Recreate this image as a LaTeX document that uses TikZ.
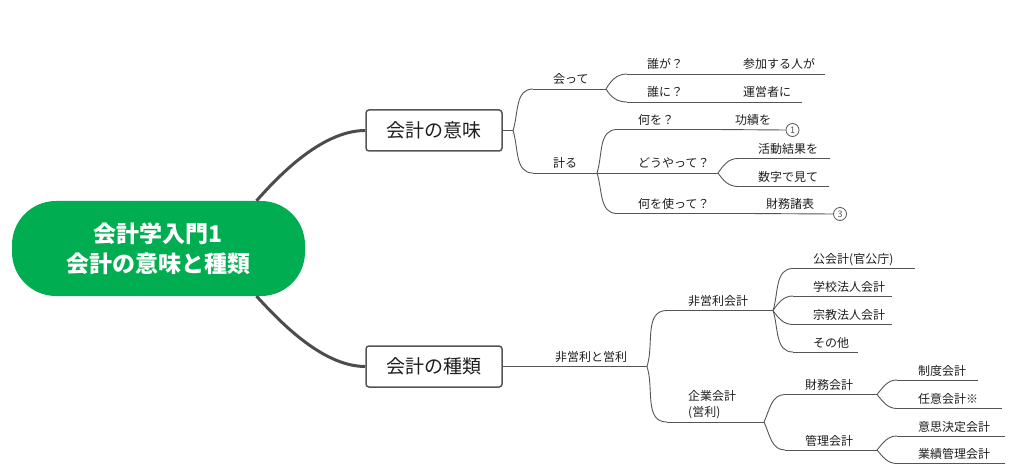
\documentclass[tikz,border=0pt]{standalone}
\usepackage{fontspec}
\setmainfont{Noto Sans CJK JP}
\definecolor{rootgreen}{RGB}{0,173,80}
\definecolor{lncol}{RGB}{85,85,85}
\definecolor{txtcol}{RGB}{30,30,30}
\begin{document}
\begin{tikzpicture}[x=1pt,y=-1pt,
  rootbox/.style={fill=rootgreen, rounded corners=44, minimum width=293, minimum height=95,
    text=white, align=center, font=\fontsize{23}{30}\selectfont\bfseries, inner sep=0},
  mainbox/.style={draw=lncol, line width=1.5, rounded corners=3, fill=white, minimum width=136,
    minimum height=41, inner sep=0, text=txtcol, font=\fontsize{19}{20}\selectfont},
  lbl/.style={anchor=base west, inner sep=0, text=txtcol, font=\fontsize{12}{15}\selectfont},
  ln/.style={draw=lncol, line width=0.9},
  trunk/.style={draw=lncol!90!black, line width=3},
  numc/.style={circle, draw=lncol, line width=0.8, inner sep=0, minimum size=13, fill=white,
    text=lncol, font=\fontsize{9}{9}\selectfont}]
\useasboundingbox (0,0) rectangle (1015,473);

% root and main topics
\node[rootbox] (root) at (158.5,248.5) {会計学入門1\\会計の意味と種類};
\node[mainbox] (m1) at (434,130.5) {会計の意味};
\node[mainbox] (m2) at (434,366.5) {会計の種類};
\draw[trunk] ([xshift=98]root.north) .. controls (275,180) and (320,130.5) .. (m1.west);
\draw[trunk] ([xshift=98]root.south) .. controls (275,316) and (320,366.5) .. (m2.west);

% ---------- 会計の意味 ----------
\coordinate (j1) at (513,130.5);
\draw[ln] (m1.east) -- (j1);
% 会って
\coordinate (As) at (533,89); \coordinate (Ae) at (606,89);
\node[lbl] (A) at (553,84) {会って};
\draw[ln] (j1) to[out=72,in=180] (As); \draw[ln] (As) -- (Ae);
% 計る
\coordinate (Bs) at (533,173); \coordinate (Be) at (597,173);
\node[lbl] (B) at (553,168) {計る};
\draw[ln] (j1) to[out=-72,in=180] (Bs); \draw[ln] (Bs) -- (Be);
% 誰が？
\coordinate (A1s) at (627,74); \coordinate (A1e) at (723,74);
\node[lbl] (A1) at (647,69) {誰が？};
\draw[ln] (Ae) to[out=60,in=180] (A1s); \draw[ln] (A1s) -- (A1e);
\coordinate (A1ce) at (825,74);
\node[lbl] (A1c) at (743,69) {参加する人が};
\draw[ln] (A1e) -- (A1ce);
% 誰に？
\coordinate (A2s) at (627,102); \coordinate (A2e) at (723,102);
\node[lbl] (A2) at (647,97) {誰に？};
\draw[ln] (Ae) to[out=-60,in=180] (A2s); \draw[ln] (A2s) -- (A2e);
\coordinate (A2ce) at (802,102);
\node[lbl] (A2c) at (743,97) {運営者に};
\draw[ln] (A2e) -- (A2ce);
% 何を？
\coordinate (B1s) at (617,129.5); \coordinate (B1e) at (715,129.5);
\node[lbl] (B1) at (638,124.5) {何を？};
\draw[ln] (Be) to[out=72,in=180] (B1s); \draw[ln] (B1s) -- (B1e);
\node[lbl] (B1c) at (735,124.5) {功績を};
\node[numc] (n1) at (792.5,130) {1};
\draw[ln] (B1e) -- (n1.west);
% どうやって？
\coordinate (B2s) at (617,173); \coordinate (B2e) at (718,173);
\node[lbl] (B2) at (638,168) {どうやって？};
\draw[ln] (Be) -- (B2s); \draw[ln] (B2s) -- (B2e);
\coordinate (B21s) at (738,158.5); \coordinate (B21e) at (830,158.5);
\node[lbl] (B21) at (758,153.5) {活動結果を};
\draw[ln] (B2e) to[out=55,in=180] (B21s); \draw[ln] (B21s) -- (B21e);
\coordinate (B22s) at (738,186.5); \coordinate (B22e) at (829,186.5);
\node[lbl] (B22) at (758,181.5) {数字で見て};
\draw[ln] (B2e) to[out=-55,in=180] (B22s); \draw[ln] (B22s) -- (B22e);
% 何を使って？
\coordinate (B3s) at (617,213.5); \coordinate (B3e) at (746,213.5);
\node[lbl] (B3) at (638,208.5) {何を使って？};
\draw[ln] (Be) to[out=-72,in=180] (B3s); \draw[ln] (B3s) -- (B3e);
\node[lbl] (B3c) at (766,208.5) {財務諸表};
\node[numc] (n3) at (840,214) {3};
\draw[ln] (B3e) -- (n3.west);

% ---------- 会計の種類 ----------
\coordinate (Ce) at (647,366.5);
\node[lbl] (C) at (555,361.5) {非営利と営利};
\draw[ln] (m2.east) -- (Ce);
% 非営利会計
\coordinate (C1s) at (667,310.5); \coordinate (C1e) at (773,310.5);
\node[lbl] (C1) at (688,305.5) {非営利会計};
\draw[ln] (Ce) to[out=72,in=180] (C1s); \draw[ln] (C1s) -- (C1e);
% 企業会計（営利）
\coordinate (C2s) at (667,422); \coordinate (C2e) at (764,422);
\node[lbl, anchor=south west, align=left, font=\fontsize{12}{15.5}\selectfont] (C2) at (688,419) {企業会計\\(営利)};
\draw[ln] (Ce) to[out=-72,in=180] (C2s); \draw[ln] (C2s) -- (C2e);
% 非営利 children
\coordinate (C11s) at (793,268.5); \coordinate (C11e) at (915,268.5);
\node[lbl] (C11) at (813,263.5) {公会計(官公庁)};
\draw[ln] (C1e) to[out=72,in=180] (C11s); \draw[ln] (C11s) -- (C11e);
\coordinate (C12s) at (793,296); \coordinate (C12e) at (892,296);
\node[lbl] (C12) at (813,291) {学校法人会計};
\draw[ln] (C1e) to[out=55,in=180] (C12s); \draw[ln] (C12s) -- (C12e);
\coordinate (C13s) at (793,324.5); \coordinate (C13e) at (892,324.5);
\node[lbl] (C13) at (813,319.5) {宗教法人会計};
\draw[ln] (C1e) to[out=-55,in=180] (C13s); \draw[ln] (C13s) -- (C13e);
\coordinate (C14s) at (793,352); \coordinate (C14e) at (858,352);
\node[lbl] (C14) at (813,347) {その他};
\draw[ln] (C1e) to[out=-72,in=180] (C14s); \draw[ln] (C14s) -- (C14e);
% 企業会計 children
\coordinate (C21s) at (785,394.5); \coordinate (C21e) at (877,394.5);
\node[lbl] (C21) at (805,389.5) {財務会計};
\draw[ln] (C2e) to[out=65,in=180] (C21s); \draw[ln] (C21s) -- (C21e);
\coordinate (C22s) at (785,450); \coordinate (C22e) at (877,450);
\node[lbl] (C22) at (805,445) {管理会計};
\draw[ln] (C2e) to[out=-65,in=180] (C22s); \draw[ln] (C22s) -- (C22e);
% 財務会計 children
\coordinate (C211s) at (897,380); \coordinate (C211e) at (978,380);
\node[lbl] (C211) at (918,375) {制度会計};
\draw[ln] (C21e) to[out=50,in=180] (C211s); \draw[ln] (C211s) -- (C211e);
\coordinate (C212s) at (897,408.5); \coordinate (C212e) at (1002,408.5);
\node[lbl] (C212) at (918,403.5) {任意会計※};
\draw[ln] (C21e) to[out=-50,in=180] (C212s); \draw[ln] (C212s) -- (C212e);
% 管理会計 children
\coordinate (C221s) at (897,436); \coordinate (C221e) at (1005,436);
\node[lbl] (C221) at (918,431) {意思決定会計};
\draw[ln] (C22e) to[out=50,in=180] (C221s); \draw[ln] (C221s) -- (C221e);
\coordinate (C222s) at (897,463.5); \coordinate (C222e) at (1005,463.5);
\node[lbl] (C222) at (918,458.5) {業績管理会計};
\draw[ln] (C22e) to[out=-50,in=180] (C222s); \draw[ln] (C222s) -- (C222e);
\end{tikzpicture}
\end{document}
